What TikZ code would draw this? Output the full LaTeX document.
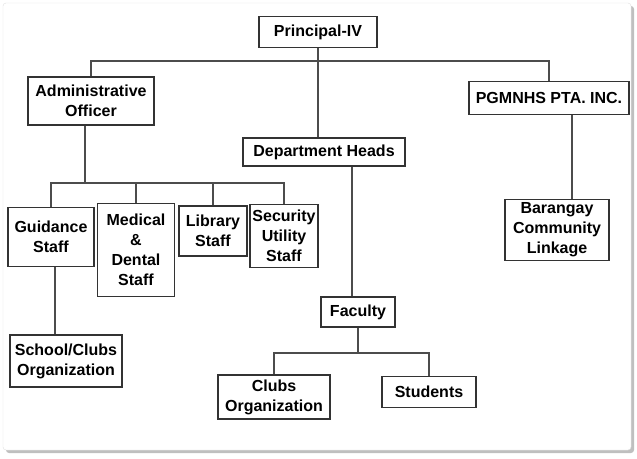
\documentclass[tikz,border=0pt]{standalone}
\usepackage{fontspec}
\setmainfont{Liberation Sans}
\usetikzlibrary{positioning}
\tikzset{x=1pt, y=-1pt,
         on grid,
         orgbox/.style={draw=black!80, line width=1.2pt, fill=white,
                        align=center, inner sep=0pt,
                        font=\fontsize{16}{20}\selectfont\bfseries},
         boxsize/.style 2 args={minimum width=#1pt, minimum height=#2pt},
         link/.style={draw=black!70, line width=1.2pt},
         }

\begin{document}
\begin{tikzpicture}
    \useasboundingbox (0,0) rectangle (637,458);
    % card with shadow
    \fill[black!25, rounded corners=3pt] (6,6) rectangle (634,453);
    \filldraw[fill=white, draw=black!12, rounded corners=3pt] (3,3) rectangle (631,450);

    \node[orgbox, boxsize={118}{31}] (prin) at (318,32) {Principal-IV};
    \node[orgbox, boxsize={126}{48}, below left=69pt and 227pt of prin] (admin) {Administrative\\Officer};
    \node[orgbox, boxsize={162}{28}, below right=120pt and 6pt of prin] (dept) {Department Heads};
    \node[orgbox, boxsize={160}{33}, below right=66pt and 231pt of prin] (pta) {PGMNHS PTA. INC.};
    \node[orgbox, boxsize={104}{61}, below right=132pt and 8pt of pta] (brgy) {Barangay\\Community\\Linkage};

    \node[orgbox, boxsize={86}{59}, below left=136pt and 40pt of admin] (guid) {Guidance\\Staff};
    \node[orgbox, boxsize={77}{93}, below right=13pt and 85pt of guid] (med) {Medical\\\&\\Dental\\Staff};
    \node[orgbox, boxsize={68}{50}, above right=19pt and 77pt of med] (lib) {Library\\Staff};
    \node[orgbox, boxsize={68}{63}, below right=5pt and 71pt of lib] (sec) {Security\\Utility\\Staff};
    \node[orgbox, boxsize={112}{52}, below right=124pt and 15pt of guid] (sch) {School/Clubs\\Organization};

    \node[orgbox, boxsize={74}{30}, below right=160pt and 34pt of dept] (fac) {Faculty};
    \node[orgbox, boxsize={112}{44}, below left=85pt and 84pt of fac] (clubs) {Clubs\\Organization};
    \node[orgbox, boxsize={94}{31}, below right=80pt and 71pt of fac] (stud) {Students};

    \coordinate (topbus) at (318,61);
    \coordinate (adminbus) at (85,183);
    \coordinate (facbus) at (358,353);

    \draw[link] (prin.south) -- (prin.south |- dept.north);
    \draw[link] (admin.north) |- (topbus) -| (pta.north);
    \draw[link] ([xshift=23pt]pta.south) -- ([xshift=23pt]pta.south |- brgy.north);

    \draw[link] (adminbus |- admin.south) -- (adminbus);
    \draw[link] (guid.north) |- (adminbus) -| (sec.north);
    \draw[link] (med.north) -- (med.north |- adminbus);
    \draw[link] (lib.north) -- (lib.north |- adminbus);
    \draw[link] ([xshift=4pt]guid.south) -- ([xshift=4pt]guid.south |- sch.north);

    \draw[link] ([xshift=-6pt]fac.north) -- ([xshift=-6pt]fac.north |- dept.south);
    \draw[link] (fac.south) -- (facbus);
    \draw[link] (clubs.north) |- (facbus) -| (stud.north);
\end{tikzpicture}
\end{document}
